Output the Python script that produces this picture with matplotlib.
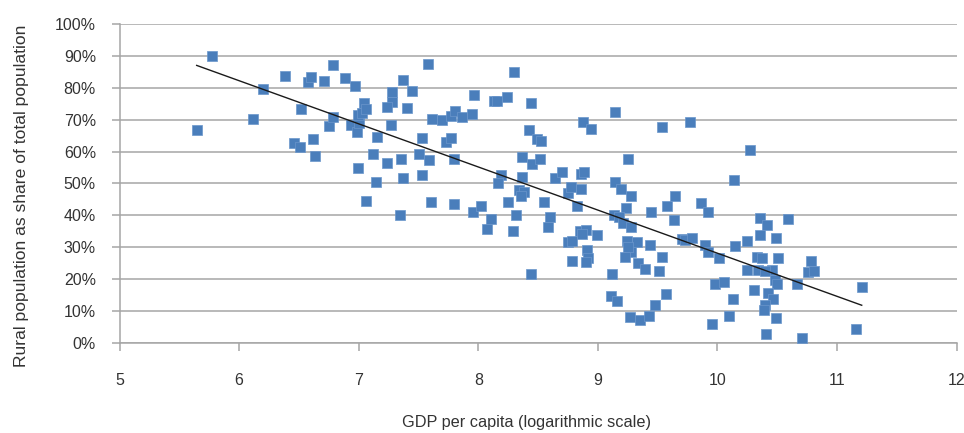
import numpy as np
import matplotlib
matplotlib.use('Agg')
import matplotlib.pyplot as plt
from matplotlib.ticker import PercentFormatter

plt.rcParams['font.family'] = ['Liberation Sans', 'DejaVu Sans']

# log GDP per capita and rural share (%)
gdp = [5.645, 5.776, 6.114, 6.20, 6.386, 6.515, 6.462, 6.509, 6.62, 6.637,
       6.574, 6.601, 6.707, 6.788, 6.883, 6.969, 6.752, 6.785, 6.933, 6.983,
       7.003, 6.996, 7.025, 7.04, 7.058, 7.15, 7.117, 6.99, 7.234, 7.145,
       7.058, 7.281, 7.368, 7.443, 7.281, 7.24, 7.406, 7.268, 7.582, 7.61,
       7.699, 7.772, 7.805, 7.861, 7.95, 7.967, 7.532, 7.727, 7.772, 7.507,
       7.585, 7.354, 7.368, 7.527, 7.793, 7.602, 7.794, 8.131, 8.154, 8.237,
       8.301, 8.438, 8.426, 8.488, 8.522, 8.364, 8.447, 8.517, 8.187, 8.162,
       8.364, 8.34, 8.382, 8.354, 8.642, 8.703, 8.753, 8.775, 8.859, 8.887,
       8.859, 8.873, 8.942, 9.143, 9.143, 9.19, 9.25, 9.533, 9.77, 10.272,
       10.14, 9.277, 9.645, 9.58, 9.86, 9.923, 9.232, 9.444, 9.639, 9.135,
       9.18, 9.213, 9.275, 10.355, 10.41, 10.592, 10.355, 10.487, 10.25, 10.147,
       9.24, 9.324, 9.436, 9.706, 9.729, 9.785, 9.896, 9.918, 10.013, 9.274,
       9.227, 9.338, 9.394, 9.533, 9.511, 9.12, 10.334, 10.376, 10.508, 10.25,
       10.342, 10.454, 10.397, 10.78, 10.758, 10.807, 10.481, 10.5, 10.667, 9.979,
       10.055, 9.112, 9.162, 9.567, 9.478, 10.13, 10.303, 10.42, 10.467, 10.397,
       10.389, 10.487, 10.097, 11.206, 9.268, 9.352, 9.427, 9.952, 10.403, 10.709,
       11.158, 7.345, 7.958, 8.022, 8.106, 8.075, 8.25, 8.315, 8.288, 8.547,
       8.6, 8.586, 8.823, 8.85, 8.898, 8.864, 8.753, 8.781, 8.995, 8.912,
       8.921, 8.902, 8.786, 8.438, 9.25]
rural = [66.8, 90.0, 70.3, 79.7, 83.6, 73.3, 62.8, 61.5, 63.8, 58.6,
         81.8, 83.4, 82.0, 87.2, 83.1, 80.6, 68.0, 70.8, 68.3, 66.2,
         69.1, 71.6, 72.0, 75.1, 73.3, 64.7, 59.3, 54.8, 56.3, 50.6,
         44.5, 78.7, 82.3, 79.1, 75.6, 73.9, 73.6, 68.3, 87.6, 70.3,
         69.9, 71.0, 72.8, 70.8, 71.7, 77.6, 64.2, 63.1, 64.3, 59.3,
         57.4, 57.8, 51.7, 52.5, 57.8, 44.2, 43.6, 75.7, 76.0, 77.2,
         85.0, 75.3, 66.8, 64.0, 63.4, 58.4, 56.1, 57.7, 52.7, 50.1,
         51.9, 48.0, 47.3, 46.2, 51.6, 53.7, 47.0, 49.0, 53.0, 53.6,
         48.2, 69.3, 67.1, 72.3, 50.6, 48.3, 57.6, 67.8, 69.3, 60.5,
         51.1, 46.1, 46.1, 43.0, 43.8, 41.2, 42.4, 41.2, 38.5, 40.0,
         39.6, 37.5, 36.4, 39.1, 37.0, 38.9, 33.7, 32.9, 32.0, 30.4,
         32.0, 31.7, 30.6, 32.6, 32.3, 32.8, 30.7, 28.6, 26.5, 28.6,
         26.9, 25.0, 23.2, 27.1, 22.7, 21.6, 26.8, 26.6, 26.6, 22.9,
         22.9, 22.9, 22.4, 25.8, 22.1, 22.6, 19.8, 18.5, 18.5, 18.6,
         19.0, 14.8, 13.3, 15.4, 11.8, 13.8, 16.6, 15.7, 13.8, 12.0,
         10.2, 7.8, 8.5, 17.5, 8.0, 7.1, 8.3, 6.0, 2.8, 1.5,
         4.5, 40.2, 41.2, 43.0, 38.9, 35.8, 44.1, 40.2, 35.0, 44.1,
         39.6, 36.2, 42.8, 35.0, 35.3, 34.0, 31.8, 32.1, 33.7, 29.0,
         26.6, 25.4, 25.8, 21.7, 30.2]

x = np.array(gdp)
y = np.array(rural)

fig = plt.figure(figsize=(9.64, 4.33), dpi=100)
ax = fig.add_axes([0.124, 0.208, 0.8684, 0.7366])

ax.scatter(x, y, marker='s', s=46, color='#4A7EBB', edgecolors='#6A96CC',
           linewidths=0.5, zorder=3)

# linear trend line over the data range
coef = np.polyfit(x, y, 1)
xs = np.array([x.min(), x.max()])
ax.plot(xs, np.polyval(coef, xs), color='#1a1a1a', lw=1.0, zorder=4)

ax.set_xlim(5, 12)
ax.set_ylim(0, 100)
ax.set_xticks(range(5, 13))
ax.set_yticks(range(0, 101, 10))
ax.yaxis.set_major_formatter(PercentFormatter(decimals=0))
ax.grid(axis='y', color='#A6A6A6', lw=1.1)
ax.set_axisbelow(True)
for s in ['top', 'right']:
    ax.spines[s].set_visible(False)
for s in ['left', 'bottom']:
    ax.spines[s].set_color('#A6A6A6')
    ax.spines[s].set_linewidth(1.1)
ax.tick_params(axis='both', colors='#A6A6A6', labelcolor='#333333',
               labelsize=11.5, length=6, width=1.1)
ax.tick_params(axis='x', pad=16)
ax.tick_params(axis='y', pad=11)

# axis titles placed like the original (y title sits a bit low)
fig.text(526 / 964, 1 - 423 / 433, 'GDP per capita (logarithmic scale)',
         fontsize=11.7, color='#333333', ha='center', va='center')
fig.text(22 / 964, 1 - 196 / 433, 'Rural population as share of total population',
         fontsize=12.6, color='#333333', ha='center', va='center', rotation=90)

fig.savefig('out.png', dpi=100)
